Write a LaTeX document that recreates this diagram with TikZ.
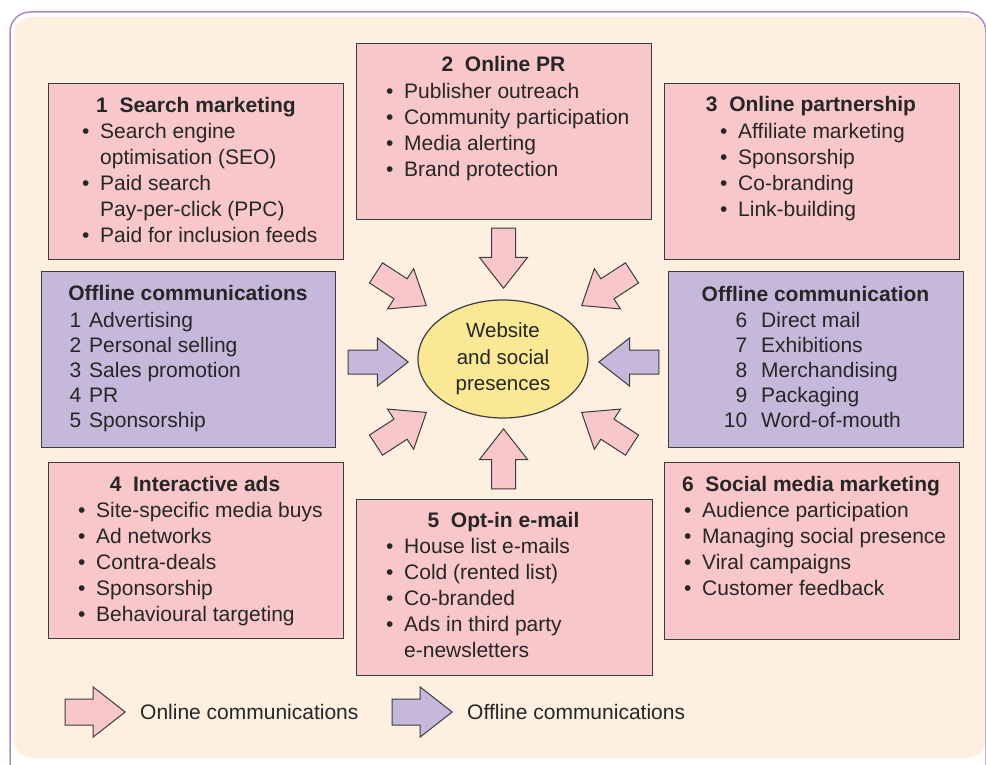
\documentclass[tikz,border=0pt]{standalone}
\usepackage{fontspec}
\setmainfont{Liberation Sans}
\usepackage{tikz}
\usetikzlibrary{shapes.geometric,shapes.arrows}
\definecolor{cream}{HTML}{FDF0E1}
\definecolor{pinkfill}{HTML}{F8C7CA}
\definecolor{lilac}{HTML}{C5B8DA}
\definecolor{framepurple}{HTML}{A98CBF}
\definecolor{sunny}{HTML}{FBE894}
\definecolor{inkgray}{HTML}{3C3C3C}
\newcommand{\bul}{\makebox[18pt][l]{\textbullet}}
\newcommand{\nob}{\hspace*{18pt}}
\newcommand{\nm}[2]{\makebox[24pt][r]{#1}\hspace*{#2}}
\newcommand{\fst}{\rule{0pt}{16pt}}

\tikzset{
  box/.style={draw=inkgray, line width=1.4pt, anchor=north west, inner sep=0pt},
  onbox/.style={box, fill=pinkfill},
  offbox/.style={box, fill=lilac},
  ttl/.style={anchor=base, inner sep=0pt, text=black!85,
    font=\fontsize{21}{26}\selectfont\bfseries},
  lst/.style={anchor=north west, inner sep=0pt, align=left, text=black!85,
    font=\fontsize{21}{26}\selectfont},
  blk/.style={single arrow, draw=inkgray, line width=1pt, minimum height=60pt,
    minimum width=47pt, single arrow head extend=12pt, single arrow tip angle=76,
    inner xsep=0pt, inner ysep=11.5pt, anchor=tip},
  onarr/.style={blk, fill=pinkfill},
  offarr/.style={blk, fill=lilac}
}

\begin{document}
\begin{tikzpicture}[x=1pt,y=-1pt]
    \useasboundingbox (0,0) rectangle (986,765);

    % background panel
    \fill[cream, rounded corners=18pt] (14,17) rectangle (986,758);
    \draw[framepurple, line width=1.5pt, rounded corners=20pt]
        (10,770) -- (10,12) -- (986,12) -- (986,770);

    % 1 Search marketing
    \node[onbox, minimum width=295pt, minimum height=176pt] (search) at (48,83) {};
    \node[ttl] (searcht) at (196,113) {1\ \ Search marketing};
    \node[lst] (searchl) at (82,122) {\fst\bul Search engine\\ \nob optimisation (SEO)\\
        \bul Paid search\\ \nob Pay-per-click (PPC)\\ \bul Paid for inclusion feeds};

    % 2 Online PR
    \node[onbox, minimum width=295pt, minimum height=176pt] (pr) at (356,43) {};
    \node[ttl] (prt) at (503.5,72) {2\ \ Online PR};
    \node[lst] (prl) at (386,82) {\fst\bul Publisher outreach\\ \bul Community participation\\
        \bul Media alerting\\ \bul Brand protection};

    % 3 Online partnership
    \node[onbox, minimum width=295pt, minimum height=176pt] (partner) at (664,83) {};
    \node[ttl] (partnert) at (811,112) {3\ \ Online partnership};
    \node[lst] (partnerl) at (720,122) {\fst\bul Affiliate marketing\\ \bul Sponsorship\\
        \bul Co-branding\\ \bul Link-building};

    % offline, left
    \node[offbox, minimum width=294pt, minimum height=176pt] (offl) at (41,271) {};
    \node[ttl] (offlt) at (188,300) {Offline communications};
    \node[lst, font=\fontsize{21}{25}\selectfont] (offll) at (57,311) {\fst\nm{1}{8pt}Advertising\\
        \nm{2}{8pt}Personal selling\\ \nm{3}{8pt}Sales promotion\\ \nm{4}{8pt}PR\\
        \nm{5}{8pt}Sponsorship};

    % offline, right
    \node[offbox, minimum width=295pt, minimum height=176pt] (offr) at (668,271) {};
    \node[ttl] (offrt) at (815.5,301) {Offline communication};
    \node[lst, font=\fontsize{21}{25}\selectfont] (offrl) at (723,311) {\fst\nm{6}{14pt}Direct mail\\
        \nm{7}{14pt}Exhibitions\\ \nm{8}{14pt}Merchandising\\ \nm{9}{14pt}Packaging\\
        \nm{10}{14pt}Word-of-mouth};

    % 4 Interactive ads
    \node[onbox, minimum width=295pt, minimum height=176pt] (iads) at (48,462) {};
    \node[ttl] (iadst) at (195,491) {4\ \ Interactive ads};
    \node[lst] (iadsl) at (78,501) {\fst\bul Site-specific media buys\\ \bul Ad networks\\
        \bul Contra-deals\\ \bul Sponsorship\\ \bul Behavioural targeting};

    % 5 Opt-in e-mail
    \node[onbox, minimum width=296pt, minimum height=176pt] (optin) at (356,499) {};
    \node[ttl] (optint) at (503.5,527) {5\ \ Opt-in e-mail};
    \node[lst] (optinl) at (386,537) {\fst\bul House list e-mails\\ \bul Cold (rented list)\\
        \bul Co-branded\\ \bul Ads in third party\\ \nob e-newsletters};

    % 6 Social media marketing
    \node[onbox, minimum width=295pt, minimum height=177pt] (social) at (664,462) {};
    \node[ttl] (socialt) at (811,491) {6\ \ Social media marketing};
    \node[lst] (sociall) at (684,501) {\fst\bul Audience participation\\
        \bul Managing social presence\\ \bul Viral campaigns\\ \bul Customer feedback};

    % centre
    \node[ellipse, draw=inkgray, line width=1.2pt, fill=sunny, minimum width=170pt,
          minimum height=118pt, inner sep=0pt, align=center, text=black!85,
          font=\fontsize{20.5}{26.5}\selectfont] (web) at (503,359)
          {Website\\ and social\\ presences};

    % arrows into the centre
    \node[onarr, rotate=-90] (arrn) at (503.5,289) {};
    \node[onarr, rotate=90] (arrs) at (503.5,428) {};
    \node[offarr] (arrw) at (409,362) {};
    \node[offarr, rotate=180] (arre) at (598,362) {};
    \node[onarr, rotate=-33] (arrnw) at (427,306) {};
    \node[onarr, rotate=213] (arrne) at (581,306) {};
    \node[onarr, rotate=33] (arrsw) at (427,412) {};
    \node[onarr, rotate=147] (arrse) at (581,412) {};

    % legend
    \node[onarr, minimum width=49pt, inner ysep=12.5pt] (keyon) at (126,712) {};
    \node[lst, anchor=base west] (keyont) at (140,719) {Online communications};
    \node[offarr, minimum width=49pt, inner ysep=12.5pt] (keyoff) at (453,712) {};
    \node[lst, anchor=base west] (keyofft) at (467,719) {Offline communications};
\end{tikzpicture}
\end{document}
